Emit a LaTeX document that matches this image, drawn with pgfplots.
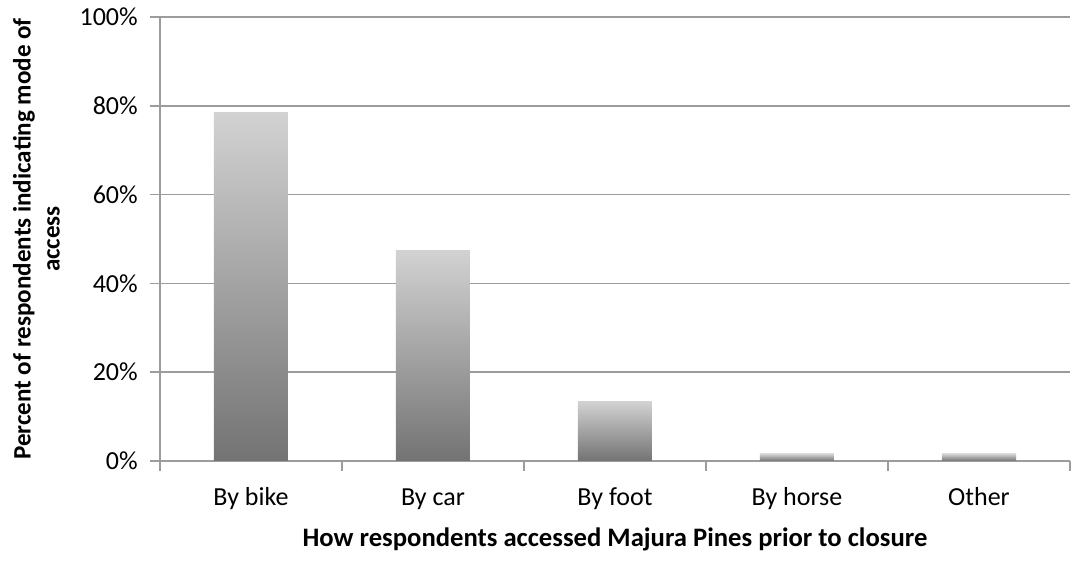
\documentclass[border=0pt]{standalone}
\usepackage{pgfplots}
\pgfplotsset{compat=1.18}
\usepackage{fontspec}
\setmainfont{Carlito}
\definecolor{gridc}{HTML}{9C9C9C}
\definecolor{bartop}{HTML}{D2D2D2}
\definecolor{barbot}{HTML}{737373}
\begin{document}
\begin{tikzpicture}
\useasboundingbox (-120pt,-76.5pt) rectangle (686.25pt,345.75pt);
\begin{axis}[
  scale only axis,
  width=682.5pt, height=333pt,
  at={(0,0)}, anchor=south west,
  xmin=-0.5, xmax=4.5,
  ymin=0, ymax=100,
  axis x line*=bottom, axis y line*=left,
  axis line style={draw=gridc, line width=1.1pt},
  ytick={0,20,...,100},
  ymajorgrids,
  grid style={draw=gridc, line width=1.1pt},
  xtick={-0.5,0.5,...,4.5},
  x tick label as interval,
  xticklabels={By bike,By car,By foot,By horse,Other},
  tick align=outside,
  major tick length=7.5pt,
  tick style={draw=gridc, line width=1.1pt},
  /pgf/number format/assume math mode=true,
  yticklabel={\pgfmathprintnumber{\tick}\%},
  ticklabel style={font=\fontsize{19.5}{23}\selectfont, text=black},
  xticklabel style={anchor=base, inner sep=0pt, yshift=-26.25pt},
  yticklabel style={anchor=east, inner sep=0pt, xshift=-9pt},
  xlabel={How respondents accessed Majura Pines prior to closure},
  ylabel={Percent of respondents indicating mode of\\access},
  xlabel style={font=\fontsize{20}{24}\selectfont\bfseries, at={(axis description cs:0.5,0)}, anchor=base, inner sep=0pt, yshift=-64.5pt},
  ylabel style={font=\fontsize{18.8}{21.75}\selectfont\bfseries, align=center, at={(axis description cs:-0.1097,0.5)}, anchor=south, inner sep=0pt},
]
\addplot[ybar, bar shift=0pt, bar width=55.5pt, draw=none, top color=bartop, bottom color=barbot] coordinates {(0,78.4)};
\addplot[ybar, bar shift=0pt, bar width=55.5pt, draw=none, top color=bartop, bottom color=barbot] coordinates {(1,47.5)};
\addplot[ybar, bar shift=0pt, bar width=55.5pt, draw=none, top color=bartop, bottom color=barbot] coordinates {(2,13.4)};
\addplot[ybar, bar shift=0pt, bar width=55.5pt, draw=none, top color=bartop, bottom color=barbot] coordinates {(3,1.6)};
\addplot[ybar, bar shift=0pt, bar width=55.5pt, draw=none, top color=bartop, bottom color=barbot] coordinates {(4,1.6)};
\end{axis}
\end{tikzpicture}
\end{document}
